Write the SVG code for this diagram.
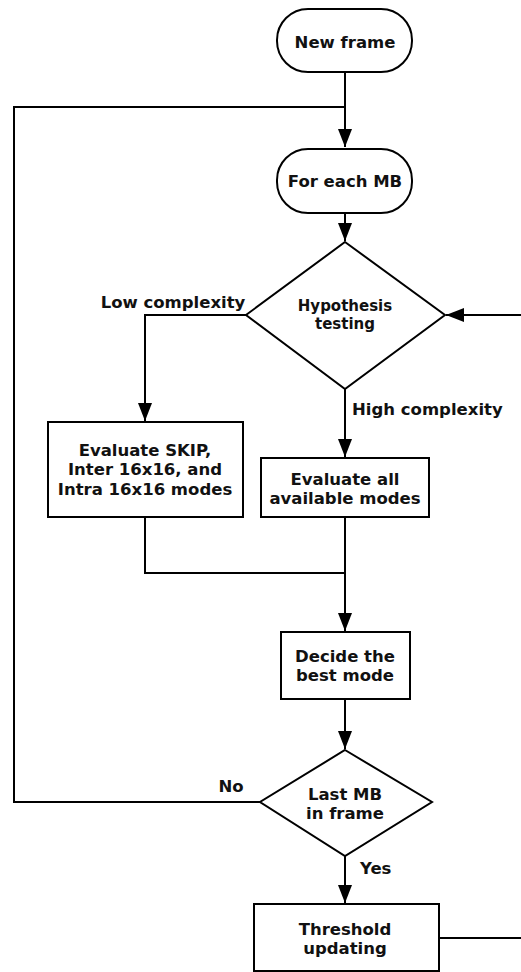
<svg xmlns="http://www.w3.org/2000/svg" width="521" height="972" viewBox="0 0 521 972">
<style>
.n{fill:#fff;stroke:#000;stroke-width:2}
.c{fill:none;stroke:#000;stroke-width:2}
text{font-family:"DejaVu Sans",Verdana,sans-serif;font-weight:bold;font-size:16.5px;fill:#111}
.m{text-anchor:middle}
.s{font-size:15px}
</style>
<defs>
<marker id="a" markerUnits="userSpaceOnUse" markerWidth="20" markerHeight="16" refX="18" refY="7" orient="auto">
<path d="M0,0 L18,7 L0,14 Z" fill="#000"/>
</marker>
</defs>
<g id="connectors">
<path class="c" d="M345,72 V147" marker-end="url(#a)"/>
<path class="c" d="M345,213 V241" marker-end="url(#a)"/>
<path class="c" d="M246,315 H145 V421" marker-end="url(#a)"/>
<path class="c" d="M345,389 V457" marker-end="url(#a)"/>
<path class="c" d="M521,315 H446" marker-end="url(#a)"/>
<path class="c" d="M145,517 V573 H345"/>
<path class="c" d="M345,517 V631" marker-end="url(#a)"/>
<path class="c" d="M345,699 V749" marker-end="url(#a)"/>
<path class="c" d="M260,802 H14 V107 H345"/>
<path class="c" d="M345,856 V903" marker-end="url(#a)"/>
<path class="c" d="M439,938 H521"/>
<text x="173" y="308" class="m">Low complexity</text>
<text x="352" y="415">High complexity</text>
<text x="231" y="792" class="m">No</text>
<text x="360" y="874">Yes</text>
</g>
<g id="new-frame">
<rect class="n" x="277" y="9" width="135" height="63" rx="31"/>
<text x="345" y="48" class="m">New frame</text>
</g>
<g id="for-each-mb">
<rect class="n" x="277" y="149" width="135" height="64" rx="31"/>
<text x="345" y="187" class="m">For each MB</text>
</g>
<g id="hypothesis">
<polygon class="n" points="345,242 445,315 345,389 246,315"/>
<text x="345" y="311" class="m s">Hypothesis</text>
<text x="345" y="329" class="m s">testing</text>
</g>
<g id="evaluate-skip">
<rect class="n" x="48" y="422" width="195" height="95"/>
<text x="145" y="456" class="m">Evaluate SKIP,</text>
<text x="145" y="475" class="m">Inter 16x16, and</text>
<text x="145" y="495" class="m">Intra 16x16 modes</text>
</g>
<g id="evaluate-all">
<rect class="n" x="261" y="458" width="168" height="59"/>
<text x="345" y="485" class="m">Evaluate all</text>
<text x="345" y="504" class="m">available modes</text>
</g>
<g id="decide">
<rect class="n" x="281" y="632" width="129" height="67"/>
<text x="345" y="662" class="m">Decide the</text>
<text x="345" y="681" class="m">best mode</text>
</g>
<g id="last-mb">
<polygon class="n" points="345,750 432,802 345,856 260,802"/>
<text x="345" y="800" class="m">Last MB</text>
<text x="345" y="819" class="m">in frame</text>
</g>
<g id="threshold">
<rect class="n" x="254" y="904" width="185" height="67"/>
<text x="345" y="935" class="m">Threshold</text>
<text x="345" y="954" class="m">updating</text>
</g>
</svg>
